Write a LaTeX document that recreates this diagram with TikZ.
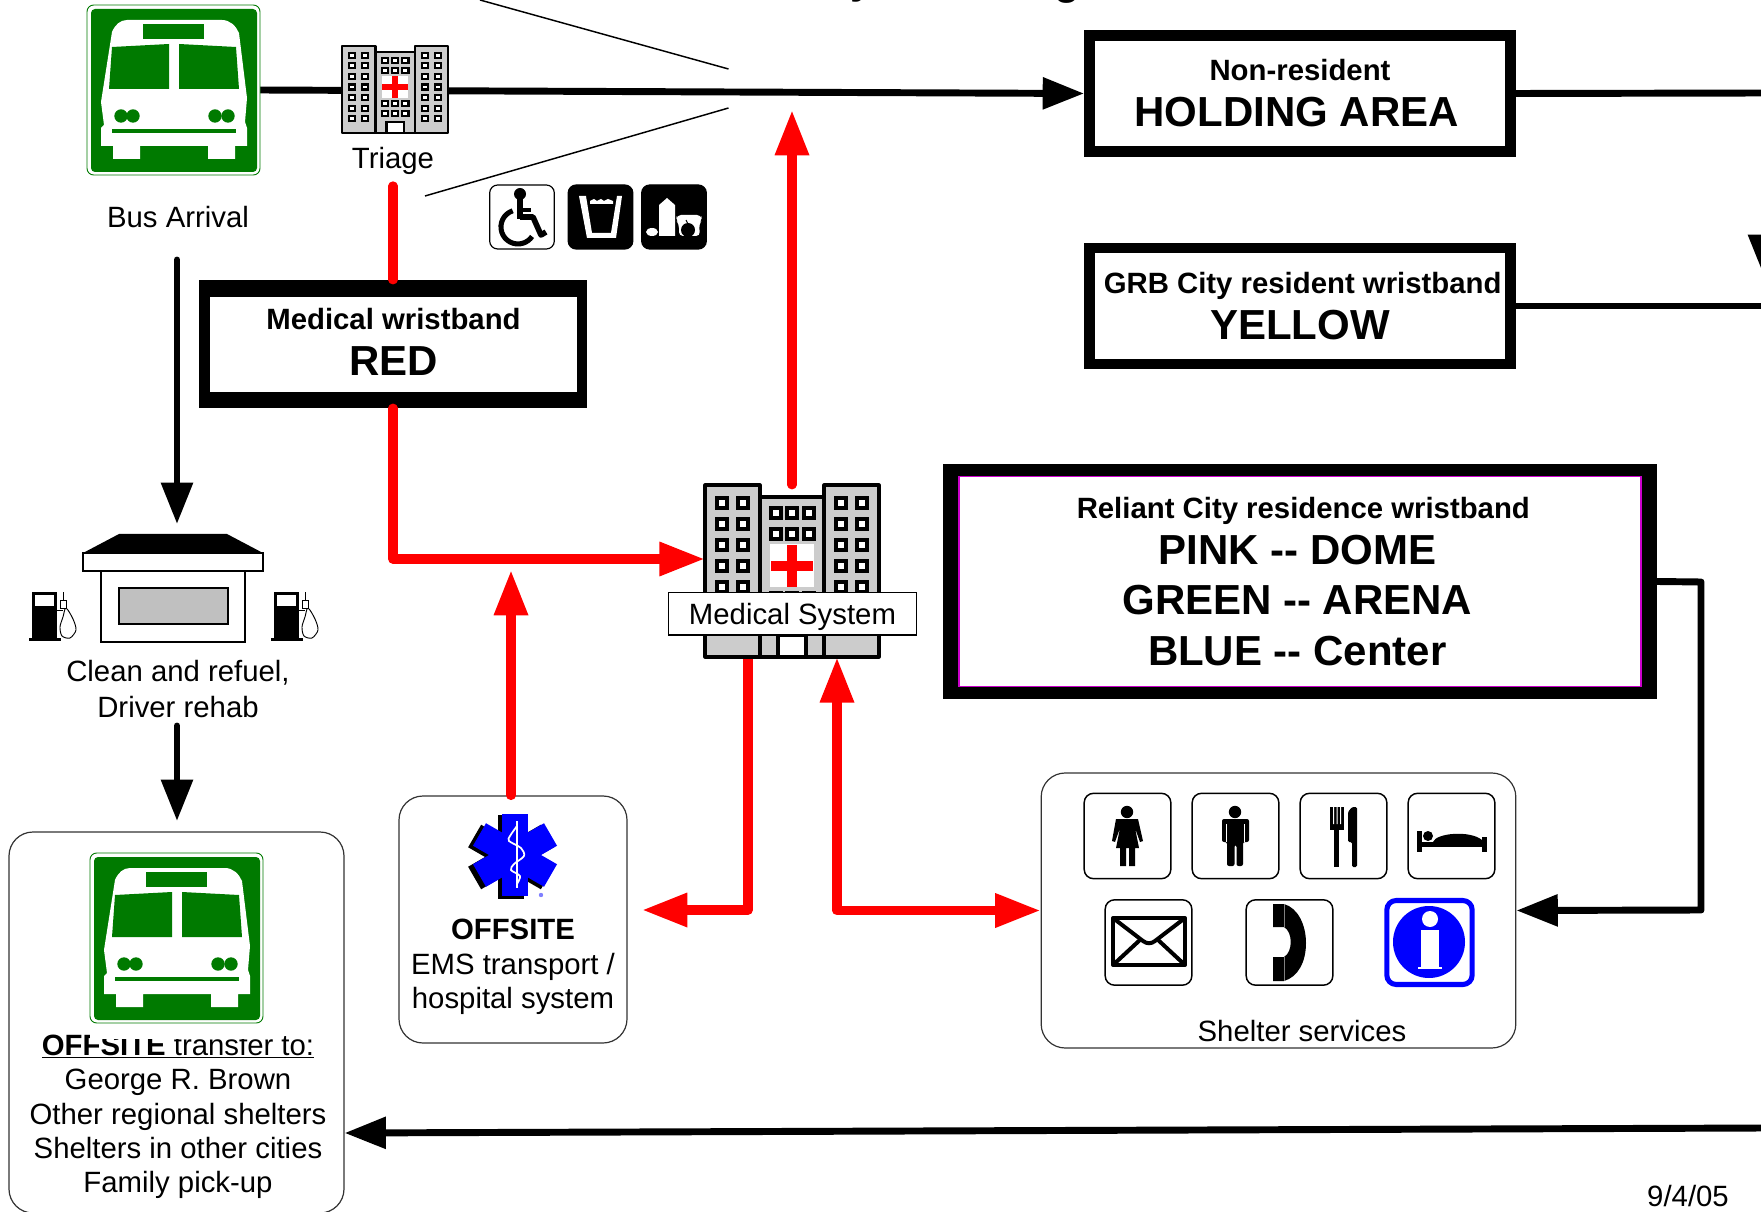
\documentclass[tikz,border=0pt]{standalone}
\usepackage{fontspec}
\setmainfont{Liberation Sans}
\usetikzlibrary{arrows.meta}

\definecolor{signgreen}{HTML}{007A00}
\definecolor{bldgray}{HTML}{CCCCCC}
\definecolor{wingray}{HTML}{C0C0C0}
\definecolor{relpink}{HTML}{CC00CC}
\newcommand\smalltxt{\fontsize{22}{26}\selectfont}
\newcommand\bigtxt{\fontsize{31.5}{38}\selectfont}

\tikzset{
  bktip/.tip={Triangle[length=31pt,width=23pt]},
  rdtip/.tip={Triangle[length=34pt,width=24pt]},
  blackline/.style={line width=5.2pt, line cap=round, line join=round},
  redline/.style={line width=7pt, red, line cap=round, line join=round},
  wristbox/.style={draw, line width=8.2pt, fill=white, inner sep=0pt, align=center, font=\bigtxt, minimum width=315.75pt, minimum height=87pt},
  roundbox/.style={draw=black!80, line width=.9pt, rounded corners=18pt, fill=white, inner sep=0pt},
  iconbox/.style={draw, line width=1.1pt, rounded corners=7pt, fill=white, inner sep=0pt, minimum width=65pt, minimum height=64pt},
  smallicon/.style={draw, line width=.9pt, rounded corners=6pt, inner sep=0pt, minimum width=48.5pt, minimum height=48pt},
  frame/.style={inner sep=0pt, minimum width=#1},
  lbl/.style={font=\smalltxt, inner sep=0pt, align=center},
  pics/busicon/.style={code={
    \draw[signgreen, fill=white, line width=.7pt, rounded corners=5pt] (0,0) rectangle (173,170);
    \fill[signgreen, rounded corners=3pt] (4,4) rectangle (170,167);
    \fill[white] (25,27) .. controls (28,20) and (33,15) .. (40,15) -- (135,15) .. controls (143,15) and (149,21) .. (152,28)
      -- (160,93) -- (158,117) -- (160,123) -- (160,141) -- (148,141) -- (148,154) -- (121,154) -- (121,141) -- (53,141)
      -- (53,154) -- (26,154) -- (26,141) -- (14,141) -- (14,123) -- (17,120) -- (14,97) -- cycle;
    \fill[signgreen] (56,19) rectangle (117,34);
    \fill[signgreen] (25,42) -- (82,39) -- (82,84) -- (22,84) -- cycle;
    \fill[signgreen] (92,39) -- (149,42) -- (152,84) -- (92,84) -- cycle;
    \foreach \lampx in {34,46,128,141} \fill[signgreen] (\lampx,111) circle (6.7);
    \fill[signgreen] (25,124) rectangle (149,128);
  }},
  pics/hospital/.style={code={
    \draw[fill=bldgray, line width=#1, line join=round] (0,0) rectangle (55,172);
    \draw[fill=bldgray, line width=#1, line join=round] (119,0) rectangle (174,172);
    \draw[fill=bldgray, line width=#1, line join=round] (55,12) rectangle (119,172);
    \foreach \winx in {17,38,136,157}
      \foreach \winy in {18,39,60,81,102,123,144}
        \draw[fill=white, line width=#1] (\winx-5,\winy-5) rectangle (\winx+5,\winy+5);
    \foreach \winx in {71,87,104}
      \foreach \winy in {28,49,113,134}
        \draw[fill=white, line width=#1] (\winx-5,\winy-5) rectangle (\winx+5,\winy+5);
    \fill[white] (65,59) rectangle (109,102);
    \fill[red] (82,60) rectangle (92,102);
    \fill[red] (66,76) rectangle (108,86);
    \draw[fill=white, line width=#1] (73,150) rectangle (101,172);
  }},
  pics/fuelpump/.style={code={
    \fill (0,0) rectangle (25,46);
    \fill (-3,46) rectangle (29,49);
    \fill[white] (3,3) rectangle (22,14);
    \draw[line width=.7pt] (25,18) -- (31,18);
    \draw[line width=.7pt, fill=white] plot[smooth cycle] coordinates {(34,16) (41,27) (44,38) (38,46) (30,44) (28,35) (31,25)};
    \draw[line width=.7pt, fill=white] (28,8) rectangle (34,16);
    \draw[line width=.7pt] (31,8) -- (31,0);
  }},
}

\begin{document}
\begin{tikzpicture}[x=.75pt, y=-.75pt]
\useasboundingbox (0,0) rectangle (1761,1212);
% title above the cut
\node[font=\bigtxt\bfseries, anchor=base, inner sep=0pt] (titley) at (862,-6) {y};
\node[font=\bigtxt\bfseries, anchor=base, inner sep=0pt] (titleg) at (1067,-5) {g};
% frames of the pictures, for the connectors
\node[frame=129.75pt, minimum height=127.5pt] (busarr) at (173.5,90) {};
\node[frame=79.5pt, minimum height=65.25pt] (triage) at (395,89.5) {};
\node[frame=130.5pt, minimum height=129pt] (medbld) at (792,571) {};
\node[frame=135pt, minimum height=81pt] (station) at (173,588) {};
% free ends
\coordinate (busdown) at (177,260);
\coordinate (stationin) at (177,524);
\coordinate (cleandown) at (177,726);
\coordinate (offtop) at (177,821);
\coordinate (triagedown) at (393,186);
\coordinate (toptip) at (792,110);
\coordinate (emsup) at (511,570);
\coordinate (emsin) at (642,910);
\coordinate (cornerhold) at (1764,93);
\coordinate (grbtip) at (1764,276);
\coordinate (cornergrb) at (1764,306);
\coordinate (cornerbot) at (1764,1128);
\coordinate (cornerrel) at (1701,582);
\coordinate (cornerrelb) at (1701,910);
% boxes
\node[wristbox] (nonres) at (1300,93.5) {{\smalltxt\bfseries Non-resident}\\[-3.5pt]\bfseries HOLDING AREA\kern5pt};
\node[wristbox] (grb) at (1300,306) {\kern4pt{\smalltxt\bfseries GRB City resident wristband}\\[-3.5pt]\bfseries YELLOW};
\node[fill, inner sep=0pt, minimum width=291pt, minimum height=96pt] (medwrist) at (393,344) {};
\node[fill=white, inner sep=0pt, minimum width=275pt, minimum height=71pt] (medwristin) at (393.5,344.5) {};
\node[inner sep=0pt, align=center, font=\bigtxt] (medwristlbl) at (393.5,342) {{\smalltxt\bfseries Medical wristband}\\[-3.5pt]\bfseries RED};
\node[fill, inner sep=0pt, minimum width=535.5pt, minimum height=176.25pt] (reliant) at (1300,581.5) {};
\node[draw=relpink, line width=.9pt, fill=white, inner sep=0pt, align=center, font=\bigtxt\bfseries, minimum width=511.5pt, minimum height=158pt] (reliantin) at (1300,581.5)
  {\kern5pt{\smalltxt\bfseries Reliant City residence wristband}\\[-3.5pt]PINK -{}- DOME\kern4pt\\GREEN -{}- ARENA\kern4pt\\BLUE -{}- Center\kern4pt};
\node[roundbox, minimum width=171pt, minimum height=185.25pt] (emsbox) at (513,919.5) {};
\node[roundbox, minimum width=356pt, minimum height=206.25pt] (shelter) at (1278.5,910.5) {};
\node[roundbox, minimum width=251.25pt, minimum height=285.75pt] (offbox) at (176.5,1022.5) {};
% black connectors
\draw[blackline, -bktip] (busarr.east) -- (nonres.west);
\draw[blackline] (nonres.east) -- (cornerhold);
\draw[blackline, -bktip] (cornerhold) -- (grbtip);
\draw[blackline] (grb.east) -- (cornergrb) -- (cornerbot);
\draw[blackline, -bktip] (cornerbot) -- (offbox.east |- 0,1133);
\draw[blackline, -bktip] (reliant.east) -- (cornerrel) -- (cornerrelb) -- (shelter.east);
\draw[blackline, -bktip] (busdown) -- (stationin);
\draw[blackline, -bktip] (cleandown) -- (offtop);
% thin lines
\draw[line width=1.1pt] (480,0) -- (728.5,69);
\draw[line width=1.1pt] (425,196) -- (728.5,108);
% red connectors
\draw[redline] (triagedown) -- (medwrist.north);
\draw[redline, -rdtip] (medwrist.south) |- (medbld.west |- 0,559);
\draw[redline, -rdtip] (medbld.north) -- (toptip);
\draw[redline, -rdtip] (emsbox.north -| emsup) -- (emsup);
\draw[redline, -rdtip] ([xshift=-33pt]medbld.south) |- (emsin);
\draw[redline, rdtip-rdtip] ([xshift=33.75pt]medbld.south) |- (shelter.west);
% bus, triage
\pic at (87,5) {busicon};
\pic[xscale=.61, yscale=.506] at (342,46) {hospital=1.6pt};
\node[lbl] (buslbl) at (178,217) {Bus Arrival};
\node[lbl] (triagelbl) at (393,161) {Triage};
% small icons
\node[smallicon, fill=white] (wheel) at (522,217) {};
\fill (520,194) circle (6);
\draw[line width=5pt] (520,198) -- (520,219);
\draw[line width=3.4pt] (520,210) -- (531,210);
\draw[line width=4.2pt, line join=round] (520,217) -- (533,217) -- (541,235) -- (546,232);
\draw[line width=3.8pt] (512.7,210.8) arc[start angle=-108, end angle=-326, radius=17];
\node[smallicon, fill=black] (drink) at (600.5,217) {};
\fill[white] (579,196) -- (587,238) -- (616,238) -- (622,196) -- (617,196) -- (611,233) -- (592,233) -- (586,196) -- cycle;
\fill[white] (590,201) -- (594,199) -- (597,201) -- (601,199) -- (604,201) -- (608,199) -- (613,201) -- (613,204) -- (590,204) -- cycle;
\node[smallicon, fill=black] (food) at (674,217) {};
\fill[white] (659,236) -- (659,205) -- (667,198) -- (675,205) -- (675,236) -- cycle;
\fill[white] (652,232) ellipse (6 and 4);
\fill[white, rounded corners=3pt] (679,236) -- (679,224) -- (676,220) -- (677,215) -- (701,215) -- (702,220) -- (699,224) -- (700,236) -- cycle;
\fill (688,230) circle (7);
\draw[line width=.7pt] (688,224) -- (686,220);
% gas station
\fill (83,553) -- (119,534) -- (227,534) -- (263,553) -- cycle;
\draw[line width=1.1pt, fill=white] (83,553) rectangle (263,571);
\draw[line width=1.1pt, fill=white] (101,571) rectangle (245,642);
\draw[line width=1.1pt, fill=wingray] (119,588) rectangle (228,624);
\pic at (32,592) {fuelpump};
\pic at (274,592) {fuelpump};
\node[lbl, text depth=0pt] (cleanlbl) at (178,689) {Clean and refuel,\\[.5pt]Driver rehab};
% offsite transfer
\node[lbl] (offlbl) at (178,1116.5) {\underline{\textbf{OFFSITE} transfer to:}\\[-.3pt]George R. Brown\\[-.3pt]Other regional shelters\\[-.3pt]Shelters in other cities\\[-.3pt]Family pick-up};
\fill[white] (90,1023) rectangle (263,1039);
\pic at (90,853) {busicon};
% star of life
\foreach \armrot in {0,60,120} {
  \fill[rotate around={\armrot:(511,857)}] (498,815) rectangle (524,899);
}
\foreach \armrot in {0,60,120} {
  \fill[blue, rotate around={\armrot:(515,855)}] (502,814) rectangle (528,896);
}
\draw[white, line width=1.5pt] (517,821) -- (517,888);
\draw[white, line width=1.3pt] plot[smooth] coordinates {(517,826) (510,836) (509,841) (521,848) (524,856) (514,864) (511,870) (520,876) (517,884)};
\fill[blue!50] (541,895) circle (2.2);
\node[lbl] (emslbl) at (513,967) {\textbf{OFFSITE}\\[-.3pt]EMS transport /\\[-.3pt]hospital system};
% medical system
\pic at (705,485) {hospital=2.3pt};
\node[draw, line width=1pt, fill=white, font=\smalltxt, inner sep=0pt, text height=16pt, text depth=0pt, minimum width=186pt, minimum height=32pt] (medsys) at (792.5,613.5) {Medical System};
% shelter services
\node[iconbox] (womanicon) at (1127.5,836) {};
\fill (1127,812) circle (6.2);
\fill (1116,819) -- (1138,819) -- (1143,841) -- (1140,842) -- (1135,828) -- (1139,848) -- (1135,848) -- (1135,866) -- (1129,866) -- (1129,848) -- (1126,848) -- (1126,866) -- (1120,866) -- (1120,848) -- (1116,848) -- (1120,828) -- (1115,842) -- (1112,841) -- cycle;
\node[iconbox] (manicon) at (1235.5,836) {};
\fill (1235,812) circle (6.2);
\fill[rounded corners=1.5pt] (1222,819) -- (1249,819) -- (1249,842) -- (1243,842) -- (1243,866) -- (1236.5,866) -- (1236.5,845) -- (1234.5,845) -- (1234.5,866) -- (1227,866) -- (1227,842) -- (1222,842) -- cycle;
\draw[white, line width=.5pt] (1226.5,824) -- (1226.5,842) (1244,824) -- (1244,842);
\node[iconbox] (foodicon) at (1343.5,836) {};
\fill (1330,807) rectangle (1344,830);
\fill (1334,828) rectangle (1339,867);
\fill[white] (1333,807) rectangle (1334,824) (1336.5,807) rectangle (1337.5,824) (1340,807) rectangle (1341,824);
\fill[rounded corners=1pt] (1348,842) -- (1348,812) -- (1352,807) -- (1357,807) -- (1357,867) -- (1352,867) -- (1352,842) -- cycle;
\node[iconbox] (bedicon) at (1451.5,836) {};
\fill (1417,831) rectangle (1422,852);
\fill (1482,837) rectangle (1487,852);
\fill (1422,842) rectangle (1482,847);
\fill (1433,842) .. controls (1436,833) and (1470,830) .. (1482,840) -- (1482,842) -- cycle;
\fill (1428,836) circle (5);
\node[iconbox] (mailicon) at (1148.5,942.5) {};
\draw[line width=3pt, line join=round] (1113,918) rectangle (1185,965);
\draw[line width=3pt] (1113,918) -- (1143,941) .. controls (1147,944) and (1151,944) .. (1155,941) -- (1185,918);
\draw[line width=3pt] (1113,965) -- (1141,939) (1185,965) -- (1157,939);
\node[iconbox] (phoneicon) at (1289.5,942.5) {};
\fill (1273,904) -- (1284,904) .. controls (1298,908) and (1306,925) .. (1306,943) .. controls (1306,962) and (1298,977) .. (1284,981) -- (1273,981) -- (1273,957) -- (1284,957) .. controls (1293,952) and (1293,932) .. (1284,927) -- (1273,927) -- cycle;
\draw[gray, line width=.6pt] (1284,904) -- (1284,927) (1284,957) -- (1284,981);
\node[iconbox, draw=blue, line width=3.8pt, minimum width=64pt, minimum height=63pt] (infoicon) at (1429.5,942.5) {};
\fill[blue] (1429,942) circle (36);
\fill[white] (1430,919) circle (8);
\fill[white] (1421,930) rectangle (1439,967);
\fill[white] (1418,967) rectangle (1442,969);
\node[lbl] (shelterlbl) at (1302,1031) {Shelter services};
% date
\node[lbl] (datelbl) at (1688,1196) {9/4/05};
\end{tikzpicture}
\end{document}
